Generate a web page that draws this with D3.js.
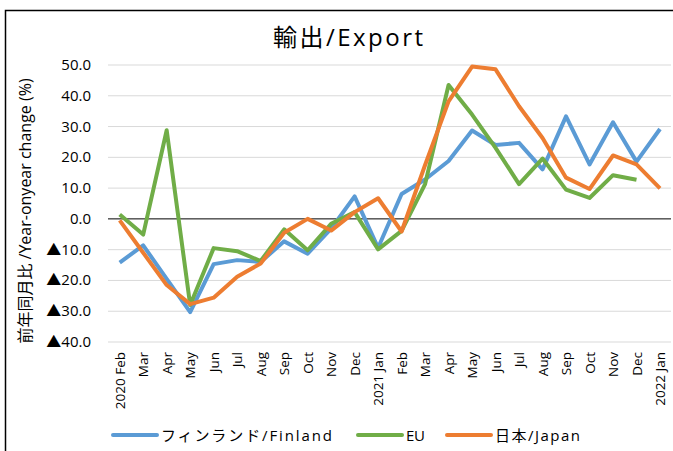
<!DOCTYPE html>
<html>
<head>
<meta charset="utf-8">
<script src="https://cdn.jsdelivr.net/npm/d3@7"></script>
<style>
  body { margin: 0; background: #fff; }
  text { font-family: "Open Sans", "Noto Sans CJK JP", sans-serif; fill: #000; }
</style>
</head>
<body>
<svg id="s" width="673" height="451"></svg>
<script>
var months = ["2020 Feb","Mar","Apr","May","Jun","Jul","Aug","Sep","Oct","Nov","Dec",
  "2021 Jan","Feb","Mar","Apr","May","Jun","Jul","Aug","Sep","Oct","Nov","Dec","2022 Jan"];

var finland = [-14.2, -8.6, -19.5, -30.3, -14.7, -13.4, -14.0, -7.3, -11.3, -3.2, 7.3,
  -9.4, 8.1, 12.8, 18.8, 28.7, 24.0, 24.7, 16.1, 33.3, 17.7, 31.4, 18.6, 29.2];
var eu = [1.4, -5.1, 28.8, -28.0, -9.5, -10.5, -13.7, -3.4, -10.2, -1.6, 2.2,
  -9.9, -3.9, 11.3, 43.5, 33.9, 23.1, 11.3, 19.6, 9.5, 6.8, 14.2, 12.7, null];
var japan = [-0.5, -11.0, -21.5, -27.7, -25.6, -18.8, -14.5, -4.5, 0.0, -3.8, 2.2,
  6.7, -4.1, 17.5, 38.2, 49.5, 48.6, 36.6, 26.3, 13.4, 9.7, 20.6, 17.7, 9.9];

var yTicks = [50, 40, 30, 20, 10, 0, -10, -20, -30, -40];

var svg = d3.select("#s");

// frame
svg.append("rect").attr("x", 5.5).attr("y", 10.5).attr("width", 700).attr("height", 500)
  .attr("fill", "none").attr("stroke", "#000").attr("stroke-width", 1.5);

var x = d3.scalePoint().domain(d3.range(months.length)).range([119.7, 660]);
var y = d3.scaleLinear().domain([-40, 50]).range([342, 65]);

// gridlines
svg.append("g").selectAll("line").data(yTicks.filter(function(d){ return d != 0; })).enter().append("line")
  .attr("x1", 108).attr("x2", 671)
  .attr("y1", function(d){ return y(d); }).attr("y2", function(d){ return y(d); })
  .attr("stroke", "#d9d9d9").attr("stroke-width", 1);

// y labels
svg.append("g").selectAll("text").data(yTicks).enter().append("text")
  .attr("x", 91).attr("y", function(d){ return y(d) + 5; })
  .attr("text-anchor", "end").attr("font-size", 15)
  .text(function(d){ return d < 0 ? "\u25B2" + (-d).toFixed(1) : d.toFixed(1); });

// x labels
svg.append("g").selectAll("text").data(months).enter().append("text")
  .attr("transform", function(d, i){ return "translate(" + (x(i) + 5) + ",352) rotate(-90)"; })
  .attr("text-anchor", "end").attr("font-size", 13.5)
  .text(function(d){ return d; });

// zero line
svg.append("line").attr("x1", 108).attr("x2", 671).attr("y1", y(0)).attr("y2", y(0))
  .attr("stroke", "#000").attr("stroke-width", 1);

var series = [
  { name: "フィンランド/Finland", values: finland, color: "#5B9BD5" },
  { name: "EU", values: eu, color: "#70AD47" },
  { name: "日本/Japan", values: japan, color: "#ED7D31" }
];

var line = d3.line()
  .defined(function(d){ return d != null; })
  .x(function(d, i){ return x(i); })
  .y(function(d){ return y(d); });

series.forEach(function(s){
  svg.append("path").attr("d", line(s.values))
    .attr("fill", "none").attr("stroke", s.color).attr("stroke-width", 4)
    .attr("stroke-linejoin", "round");
});

// title
svg.append("text").attr("x", 273).attr("y", 46)
  .attr("font-size", 24).attr("textLength", 150).attr("lengthAdjust", "spacing")
  .text("輸出/Export");

// y axis title
svg.append("text").attr("transform", "translate(31,211) rotate(-90)")
  .attr("text-anchor", "middle").attr("font-size", 16)
  .text("前年同月比 /Year-onyear change (%)");

// legend
var legendX = [113, 358, 447];
var legendW = [171, 19, 85];
series.forEach(function(s, i){
  svg.append("line").attr("x1", legendX[i]).attr("x2", legendX[i] + 44)
    .attr("y1", 435).attr("y2", 435).attr("stroke", s.color).attr("stroke-width", 4)
    .attr("stroke-linecap", "round");
  svg.append("text").attr("x", legendX[i] + 48).attr("y", 441).attr("font-size", 15)
    .attr("textLength", legendW[i]).attr("lengthAdjust", "spacing")
    .text(s.name);
});
</script>
</body>
</html>
